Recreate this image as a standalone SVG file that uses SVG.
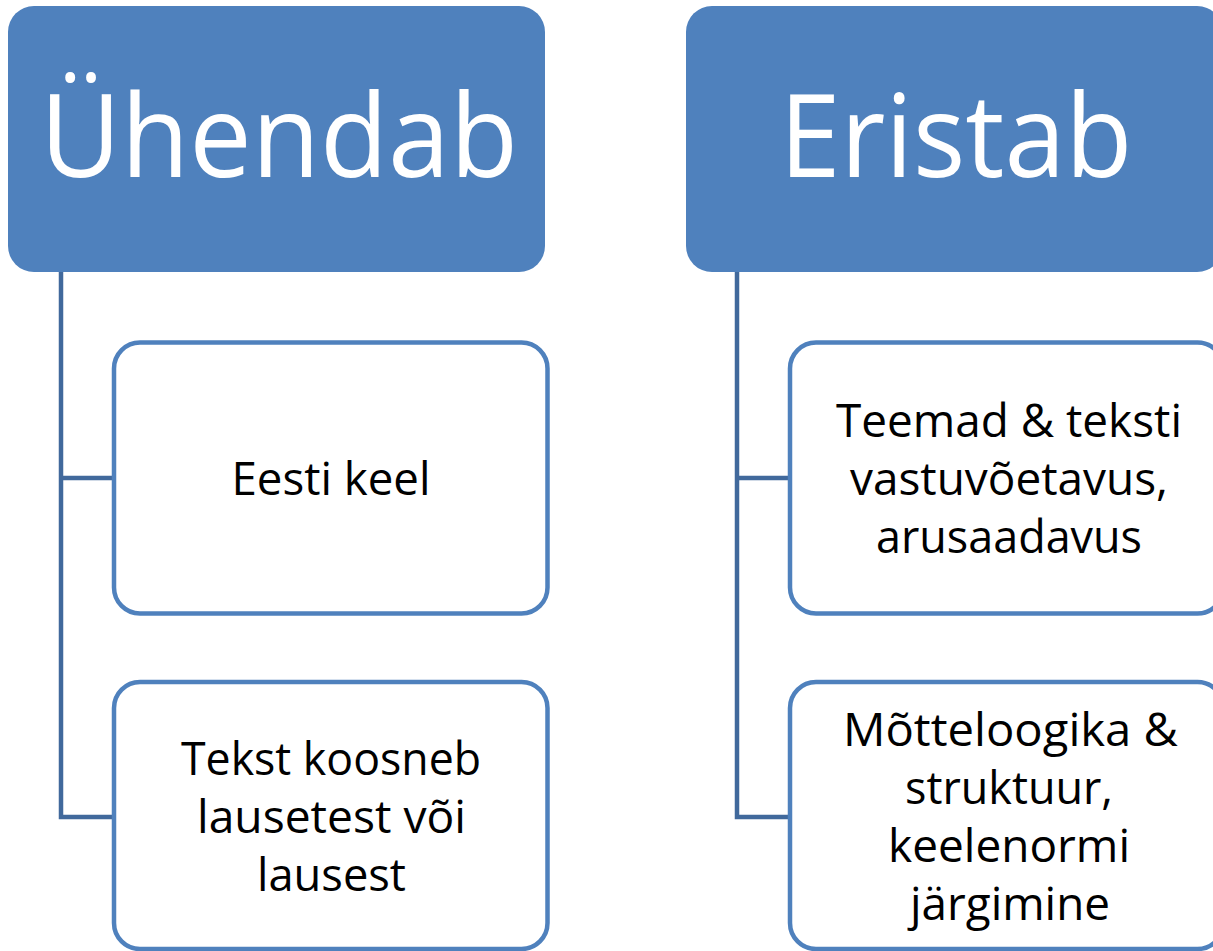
<svg xmlns="http://www.w3.org/2000/svg" width="1213" height="951" viewBox="0 0 1213 951">
<style>
.hdr{fill:#4F81BD;}
.box{fill:#FFFFFF;stroke:#4F81BD;stroke-width:4.5;}
.con{fill:none;stroke:#41699C;stroke-width:4.5;}
.ht{font-family:"Open Sans","Noto Sans","Liberation Sans",sans-serif;font-size:116px;fill:#FFFFFF;text-anchor:middle;}
.bt{font-family:"Open Sans","Noto Sans","Liberation Sans",sans-serif;font-size:45px;fill:#000000;text-anchor:middle;}
</style>
<rect x="0" y="0" width="1213" height="951" fill="#FFFFFF"/>
<g id="connectors">
<path class="con" d="M61 272 V817 H114 M61 478 H114"/>
<path class="con" d="M737 272 V817 H790 M737 478 H790"/>
</g>
<g id="hdr-left">
<rect class="hdr" x="8" y="6" width="537" height="266" rx="26"/>
<text class="ht" x="279" y="177" textLength="478" lengthAdjust="spacingAndGlyphs">Ühendab</text>
</g>
<g id="hdr-right">
<rect class="hdr" x="686" y="6" width="537" height="266" rx="26"/>
<text class="ht" x="956" y="177" textLength="353" lengthAdjust="spacingAndGlyphs">Eristab</text>
</g>
<g id="box-l1">
<rect class="box" x="114" y="342.5" width="433.5" height="271" rx="26"/>
<text class="bt" x="331" y="494.5" textLength="199" lengthAdjust="spacingAndGlyphs">Eesti keel</text>
</g>
<g id="box-l2">
<rect class="box" x="114" y="682" width="433.5" height="267" rx="26"/>
<text class="bt" x="331" y="775" textLength="300" lengthAdjust="spacingAndGlyphs">Tekst koosneb</text>
<text class="bt" x="331.5" y="833" textLength="269" lengthAdjust="spacingAndGlyphs">lausetest või</text>
<text class="bt" x="331.5" y="891" textLength="149" lengthAdjust="spacingAndGlyphs">lausest</text>
</g>
<g id="box-r1">
<rect class="box" x="790" y="342.5" width="433.5" height="271" rx="26"/>
<text class="bt" x="1009" y="436.5" textLength="346" lengthAdjust="spacingAndGlyphs">Teemad &amp; teksti</text>
<text class="bt" x="1009" y="494.5" textLength="318" lengthAdjust="spacingAndGlyphs">vastuvõetavus,</text>
<text class="bt" x="1009" y="552.5" textLength="266" lengthAdjust="spacingAndGlyphs">arusaadavus</text>
</g>
<g id="box-r2">
<rect class="box" x="790" y="682" width="433.5" height="267" rx="26"/>
<text class="bt" x="1010.5" y="746" textLength="335" lengthAdjust="spacingAndGlyphs">Mõtteloogika &amp;</text>
<text class="bt" x="1009" y="804" textLength="208" lengthAdjust="spacingAndGlyphs">struktuur,</text>
<text class="bt" x="1009" y="862" textLength="242" lengthAdjust="spacingAndGlyphs">keelenormi</text>
<text class="bt" x="1010" y="920" textLength="200" lengthAdjust="spacingAndGlyphs">järgimine</text>
</g>
</svg>
